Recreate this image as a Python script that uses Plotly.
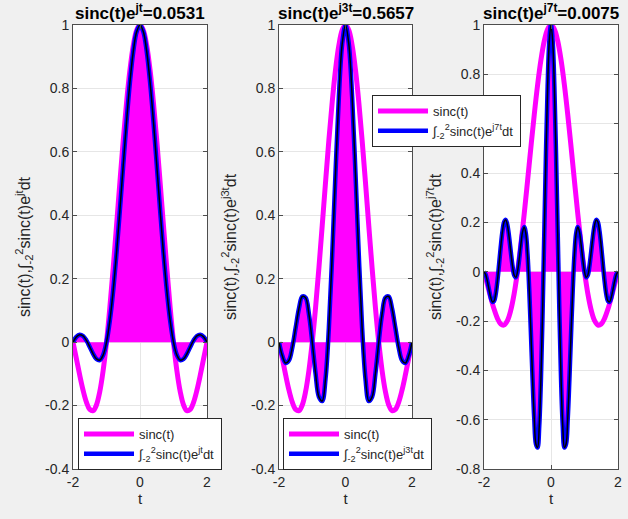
import plotly.graph_objects as go

# -----------------------------
# Data
# -----------------------------
t_coarse = [
    -2.0, -1.9, -1.8, -1.7, -1.6, -1.5, -1.4, -1.3, -1.2, -1.1, -1.0,
    -0.9, -0.8, -0.7, -0.6, -0.5, -0.4, -0.3, -0.2, -0.1, 0.0,
    0.1, 0.2, 0.3, 0.4, 0.5, 0.6, 0.7, 0.8, 0.9, 1.0,
    1.1, 1.2, 1.3, 1.4, 1.5, 1.6, 1.7, 1.8, 1.9, 2.0
]

sinc_vals = [
    0.0, -0.0518, -0.1039, -0.1515, -0.1892, -0.2122, -0.2162, -0.1981, -0.1559, -0.0894, 0.0,
    0.1093, 0.2339, 0.3679, 0.5046, 0.6366, 0.7568, 0.8584, 0.9355, 0.9836, 1.0,
    0.9836, 0.9355, 0.8584, 0.7568, 0.6366, 0.5046, 0.3679, 0.2339, 0.1093, 0.0,
    -0.0894, -0.1559, -0.1981, -0.2162, -0.2122, -0.1892, -0.1515, -0.1039, -0.0518, 0.0
]

prod_e1 = [
    0.0, 0.0167, 0.0236, 0.0195, 0.0055, -0.0150, -0.0368, -0.0530, -0.0565, -0.0406, 0.0,
    0.0679, 0.1629, 0.2814, 0.4164, 0.5587, 0.6971, 0.8201, 0.9169, 0.9787, 1.0,
    0.9787, 0.9169, 0.8201, 0.6971, 0.5587, 0.4164, 0.2814, 0.1629, 0.0679, 0.0,
    -0.0406, -0.0565, -0.0530, -0.0368, -0.0150, 0.0055, 0.0195, 0.0236, 0.0167, 0.0
]

prod_e3 = [
    0.0, -0.0432, -0.0660, -0.0573, -0.0166, 0.0447, 0.1060, 0.1438, 0.1398, 0.0883, 0.0,
    -0.0988, -0.1725, -0.1857, -0.1146, 0.0450, 0.2742, 0.5336, 0.7721, 0.9397, 1.0,
    0.9397, 0.7721, 0.5336, 0.2742, 0.0450, -0.1146, -0.1857, -0.1725, -0.0988, 0.0,
    0.0883, 0.1398, 0.1438, 0.1060, 0.0447, -0.0166, -0.0573, -0.0660, -0.0432, 0.0
]

t_fine = [
    -2.0, -1.95, -1.9, -1.85, -1.8, -1.75, -1.7, -1.65, -1.6, -1.55,
    -1.5, -1.45, -1.4, -1.35, -1.3, -1.25, -1.2, -1.15, -1.1, -1.05,
    -1.0, -0.95, -0.9, -0.85, -0.8, -0.75, -0.7, -0.65, -0.6, -0.55,
    -0.5, -0.45, -0.4, -0.35, -0.3, -0.25, -0.2, -0.15, -0.1, -0.05,
    0.0,
    0.05, 0.1, 0.15, 0.2, 0.25, 0.3, 0.35, 0.4, 0.45, 0.5,
    0.55, 0.6, 0.65, 0.7, 0.75, 0.8, 0.85, 0.9, 0.95, 1.0,
    1.05, 1.1, 1.15, 1.2, 1.25, 1.3, 1.35, 1.4, 1.45, 1.5,
    1.55, 1.6, 1.65, 1.7, 1.75, 1.8, 1.85, 1.9, 1.95, 2.0
]

prod_e7 = [
    0.0, -0.0120, -0.0385, -0.0724, -0.1039, -0.1222, -0.1191, -0.0906, -0.0384, 0.0294,
    0.1009, 0.1622, 0.2012, 0.2100, 0.1877, 0.1406, 0.0810, 0.0245, -0.0137, -0.0230,
    0.0, 0.0489, 0.1093, 0.1607, 0.1814, 0.1538, 0.0687, -0.0707, -0.2474, -0.4341,
    -0.5962, -0.6986, -0.7131, -0.6241, -0.4334, -0.1605, 0.1590, 0.4794, 0.7523, 0.9355,
    1.0,
    0.9355, 0.7523, 0.4794, 0.1590, -0.1605, -0.4334, -0.6241, -0.7131, -0.6986, -0.5962,
    -0.4341, -0.2474, -0.0707, 0.0687, 0.1538, 0.1814, 0.1607, 0.1093, 0.0489, 0.0,
    -0.0230, -0.0137, 0.0245, 0.0810, 0.1406, 0.1877, 0.2100, 0.2012, 0.1622, 0.1009,
    0.0294, -0.0384, -0.0906, -0.1191, -0.1222, -0.1039, -0.0724, -0.0385, -0.0120, 0.0
]

freq_labels = ["j", "j3", "j7"]
integral_values = ["0.0531", "0.5657", "0.0075"]

x_tick_vals = [-2, 0, 2]
x_tick_text = ["-2", "0", "2"]
y_tick_vals_a = [-0.4, -0.2, 0, 0.2, 0.4, 0.6, 0.8, 1]
y_tick_text_a = ["-0.4", "-0.2", "0", "0.2", "0.4", "0.6", "0.8", "1"]
y_tick_vals_b = [-0.8, -0.6, -0.4, -0.2, 0, 0.2, 0.4, 0.6, 0.8, 1]
y_tick_text_b = ["-0.8", "-0.6", "-0.4", "-0.2", "0", "0.2", "0.4", "0.6", "0.8", "1"]

FONT = "Liberation Sans, Arial, Helvetica, sans-serif"
MAGENTA = "#ff00ff"
BLUE = "#0000ff"
AXIS_COLOR = "#4d4d4d"
TEXT_COLOR = "#262626"

W, H = 628, 519


def px_x(v):
    return v / W


def px_y(v):
    return 1 - v / H


def build_figure():
    fig = go.Figure()

    panels = [
        dict(t=t_coarse, prod=prod_e1, yvals=y_tick_vals_a, ytext=y_tick_text_a,
             yrange=[-0.4, 1], dom=(73, 207), legend=(78, 418)),
        dict(t=t_coarse, prod=prod_e3, yvals=y_tick_vals_a, ytext=y_tick_text_a,
             yrange=[-0.4, 1], dom=(279, 412), legend=(283, 418)),
        dict(t=t_fine, prod=prod_e7, yvals=y_tick_vals_b, ytext=y_tick_text_b,
             yrange=[-0.8, 1], dom=(484, 618), legend=(372, 95)),
    ]

    layout_extra = {}
    annotations = []

    for i, p in enumerate(panels):
        n = "" if i == 0 else str(i + 1)
        xa, ya = "x" + n, "y" + n
        lg = "legend" + n
        w = freq_labels[i]

        integral_txt = (
            "\u222b<sub>-2</sub><sup>2</sup>sinc(t)e<sup>" + w + "t</sup>dt"
        )

        # filled area under the product curve
        fig.add_trace(go.Scatter(
            x=p["t"], y=p["prod"], mode="lines", line=dict(width=0, shape="spline"),
            fill="tozeroy", fillcolor=MAGENTA, showlegend=False,
            xaxis=xa, yaxis=ya, hoverinfo="skip"
        ))
        # sinc(t)
        fig.add_trace(go.Scatter(
            x=t_coarse, y=sinc_vals, mode="lines", name="sinc(t)",
            line=dict(color=MAGENTA, width=5, shape="spline"),
            xaxis=xa, yaxis=ya, legend=lg
        ))
        # product curve, blue with thin black on top
        fig.add_trace(go.Scatter(
            x=p["t"], y=p["prod"], mode="lines", name=integral_txt,
            line=dict(color=BLUE, width=4.5, shape="spline"),
            xaxis=xa, yaxis=ya, legend=lg
        ))
        fig.add_trace(go.Scatter(
            x=p["t"], y=p["prod"], mode="lines", showlegend=False,
            line=dict(color="black", width=1.5, shape="spline"),
            xaxis=xa, yaxis=ya, hoverinfo="skip"
        ))

        axis_common = dict(
            showline=True, linecolor=AXIS_COLOR, linewidth=1, mirror="ticks",
            ticks="inside", ticklen=4, tickcolor=AXIS_COLOR,
            showgrid=True, gridcolor="#e6e6e6", zeroline=False,
            tickfont=dict(family=FONT, size=14, color=TEXT_COLOR),
            tickmode="array", automargin=False,
        )

        layout_extra["xaxis" + n] = dict(
            axis_common, domain=[px_x(p["dom"][0]), px_x(p["dom"][1])],
            range=[-2, 2], tickvals=x_tick_vals, ticktext=x_tick_text,
            anchor=ya,
            title=dict(text="t", font=dict(family=FONT, size=15, color=TEXT_COLOR),
                       standoff=2),
        )
        layout_extra["yaxis" + n] = dict(
            axis_common, domain=[px_y(469), px_y(25)], range=p["yrange"],
            tickvals=p["yvals"], ticktext=p["ytext"], anchor=xa,
            title=dict(text="sinc(t),\u222b<sub>-2</sub><sup>2</sup>sinc(t)e<sup>"
                       + w + "t</sup>dt",
                       font=dict(family=FONT, size=16, color=TEXT_COLOR),
                       standoff=10),
        )
        layout_extra[lg] = dict(
            x=px_x(p["legend"][0]), y=px_y(p["legend"][1]),
            xanchor="left", yanchor="top", bgcolor="white",
            bordercolor=TEXT_COLOR, borderwidth=1,
            font=dict(family=FONT, size=13, color=TEXT_COLOR),
            itemwidth=50, tracegroupgap=0,
        )

        annotations.append(dict(
            text="<b>sinc(t)e<sup>" + w + "t</sup>=" + integral_values[i] + "</b>",
            x=(px_x(p["dom"][0]) + px_x(p["dom"][1])) / 2, y=px_y(12),
            xref="paper", yref="paper", xanchor="center", yanchor="middle",
            showarrow=False, font=dict(family=FONT, size=17, color="black"),
        ))

    fig.update_layout(
        width=W, height=H,
        margin=dict(l=0, r=0, t=0, b=0),
        paper_bgcolor="#f0f0f0",
        plot_bgcolor="white",
        annotations=annotations,
        **layout_extra
    )

    return fig


def main():
    fig = build_figure()
    # drop the default page margin so the figure fills the window
    fig.write_html(
        "out.html",
        config={"displayModeBar": False},
        post_script="document.body.style.margin='0';"
                    "document.body.style.overflow='hidden';"
    )


if __name__ == "__main__":
    main()
